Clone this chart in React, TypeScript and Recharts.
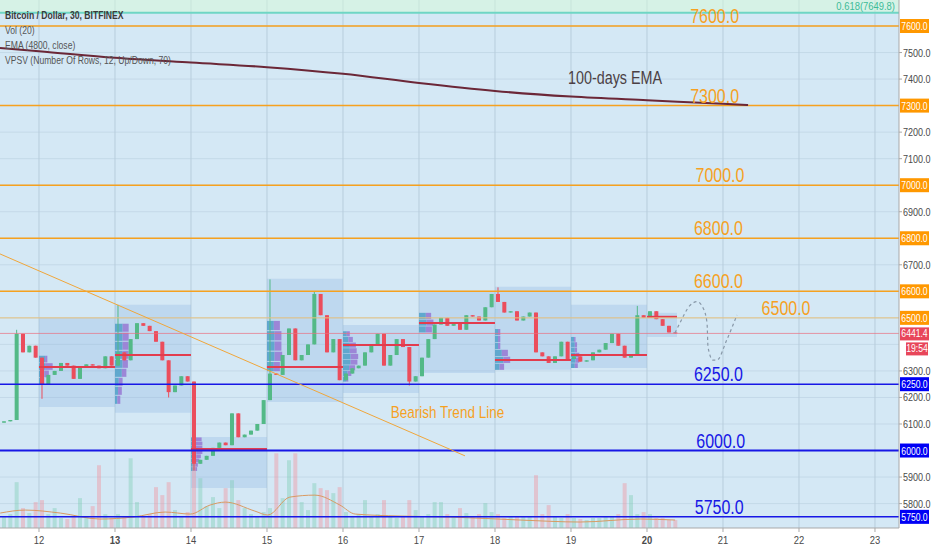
import {
  Bar,
  CartesianGrid,
  Cell,
  ComposedChart,
  Line,
  ReferenceArea,
  ReferenceDot,
  ReferenceLine,
  XAxis,
  YAxis,
} from "recharts";

const W = 932;
const H = 550;
const FONT = "'Liberation Sans', Arial, sans-serif";
const X_DOMAIN: [number, number] = [11.487, 23.316];
const Y_DOMAIN: [number, number] = [5708, 7698];

const UP = "#53b987";
const DOWN = "#eb4d5c";
const ORANGE = "#f6a11f";
const BLUE = "#1717e6";

// x axis days and y axis labels
const DAY_TICKS = [12, 13, 14, 15, 16, 17, 18, 19, 20, 21, 22, 23];
const BOLD_DAYS = [13, 20];
const PRICE_TICKS = [5800, 5900, 6100, 6200, 6300, 6700, 6900, 7100, 7200, 7400, 7500];
const PRICE_GRID = [
  5800, 5900, 6000, 6100, 6200, 6300, 6400, 6500, 6600, 6700, 6800, 6900, 7000, 7100, 7200,
  7300, 7400, 7500, 7600,
];

// 2h closes, one list per day (the 11th starts at noon)
const FIRST_OPEN = 6105;
const closes11 = [6110, 6115, 6440, 6370, 6395, 6350];
const closes12 = [6250, 6285, 6300, 6330, 6320, 6270, 6318, 6325, 6320, 6310, 6355, 6320];
const closes13 = [6370, 6340, 6420, 6480, 6470, 6450, 6410, 6340, 6220, 6245, 6280, 6260];
const closes14 = [5950, 5965, 5980, 6010, 6030, 6020, 6140, 6050, 6060, 6075, 6100, 6190];
const closes15 = [6290, 6285, 6360, 6460, 6340, 6360, 6400, 6590, 6510, 6370, 6420, 6265];
const closes16 = [6290, 6310, 6320, 6370, 6395, 6440, 6320, 6360, 6420, 6390, 6260, 6280];
const closes17 = [6350, 6420, 6475, 6500, 6470, 6480, 6455, 6510, 6505, 6490, 6540, 6590];
const closes18 = [6560, 6520, 6525, 6490, 6505, 6520, 6370, 6355, 6330, 6355, 6410, 6345];
const closes19 = [6355, 6335, 6340, 6370, 6380, 6405, 6440, 6395, 6350, 6360, 6510, 6500];
const closes20 = [6525, 6495, 6470, 6445, 6441.4];

const vol11 = [120, 140, 460, 200, 150, 260];
const vol12 = [280, 140, 200, 100, 90, 120, 300, 110, 220, 630, 140, 100];
const vol13 = [140, 120, 700, 260, 120, 140, 410, 330, 460, 180, 120, 160];
const vol14 = [780, 500, 220, 310, 200, 400, 480, 280, 200, 140, 120, 160];
const vol15 = [200, 750, 300, 680, 750, 260, 180, 450, 400, 380, 350, 410];
const vol16 = [160, 120, 140, 280, 120, 140, 280, 120, 100, 120, 280, 180];
const vol17 = [120, 140, 260, 260, 140, 120, 200, 150, 120, 140, 250, 160];
const vol18 = [140, 100, 120, 120, 120, 120, 530, 140, 230, 120, 100, 140];
const vol19 = [100, 90, 80, 100, 100, 120, 120, 140, 450, 330, 140, 160];
const vol20 = [140, 100, 100, 80, 80];

// Vol (20) average line
const volMaT = [11.49, 11.82, 12.28, 12.8, 13.24, 13.66, 13.99, 14.25, 14.45, 14.84, 15.01, 15.3, 15.63, 15.96, 16.16, 16.75, 17.41, 18.33, 19.12, 19.91, 20.37];
const volMaV = [150, 180, 150, 90, 110, 160, 140, 230, 260, 170, 130, 310, 330, 230, 140, 120, 110, 80, 60, 90, 80];
const volMaData = volMaT.map((t, i) => ({ t, ma: volMaV[i] }));

// day start, candle index, low, high (0 = body only)
const wickExtremes: [number, number, number, number][] = [
  [11.5, 2, 0, 6455],
  [12, 0, 6195, 0],
  [13, 0, 0, 6549],
  [13, 8, 6200, 0],
  [14, 0, 5925, 0],
  [15, 0, 0, 6645],
  [15, 7, 0, 6600],
  [16, 10, 6245, 0],
  [18, 0, 0, 6615],
  [19, 10, 0, 6545],
];

const dayLists: [number, number[], number[]][] = [
  [11.5, closes11, vol11],
  [12, closes12, vol12],
  [13, closes13, vol13],
  [14, closes14, vol14],
  [15, closes15, vol15],
  [16, closes16, vol16],
  [17, closes17, vol17],
  [18, closes18, vol18],
  [19, closes19, vol19],
  [20, closes20, vol20],
];

type Candle = { t: number; open: number; close: number; lo: number; hi: number; vol: number };
const STEP = 1 / 12;
const candles: Candle[] = [];
let prevClose = FIRST_OPEN;
for (const [start, list, vols] of dayLists) {
  list.forEach((close, i) => {
    const open = prevClose;
    const w = wickExtremes.find((e) => e[0] === start && e[1] === i);
    const lo = Math.min(open, close, w && w[2] ? w[2] : Infinity);
    const hi = Math.max(open, close, w && w[3] ? w[3] : -Infinity);
    candles.push({ t: start + (i + 0.5) * STEP, open, close, lo, hi, vol: vols[i] });
    prevClose = close;
  });
}

// EMA(4800) on the 30 min chart ~ 100 days
const emaT = [11.487, 12, 13, 14, 15, 16, 17, 18, 19, 20, 21, 21.33];
const emaV = [7517, 7505, 7480, 7462, 7445, 7420, 7385, 7355, 7334, 7320, 7307, 7302];
const emaData = emaT.map((t, i) => ({ t, ema: emaV[i] }));

// hand drawn projection
const projT = [20.368, 20.434, 20.56, 20.658, 20.737, 20.79, 20.803, 20.868, 20.92, 21.05, 21.184];
const projV = [6443, 6481, 6545, 6561, 6538, 6481, 6390, 6341, 6341, 6417, 6511];
const projData = projT.map((t, i) => ({ t, p: projV[i] }));

// VPSV session profiles, 12 rows bottom to top, widths in % of a day
const profileDay = [12, 13, 14, 15, 16, 17, 18, 19, 20];
const profileEnd = [13, 14, 15, 16, 17, 18, 19, 20, 20.395];
const profileLow = [6164, 6142, 5859, 6183, 6217, 6292, 6304, 6311, 6428];
const profileHigh = [6500, 6549, 6051, 6647, 6473, 6598, 6617, 6549, 6519];
const profilePoc = [6315, 6360, 6006, 6315, 6398, 6481, 6341, 6360, 6504];
const profileUp = [
  [0, 0, 0, 4, 7, 8, 8, 0, 0, 0, 0, 0],
  [0, 3, 4, 5, 9, 10, 10, 10, 10, 10, 0, 0],
  [0, 0, 0, 0, 5, 5, 6, 7, 7, 6, 5, 5],
  [0, 0, 0, 9, 10, 10, 10, 9, 0, 0, 0, 0],
  [0, 0, 4, 6, 8, 10, 10, 9, 9, 7, 5, 0],
  [0, 0, 0, 0, 0, 0, 9, 10, 9, 0, 0, 0],
  [6, 11, 9, 4, 4, 4, 0, 0, 0, 0, 0, 0],
  [5, 6, 6, 5, 5, 4, 0, 0, 0, 0, 0, 0],
  [0, 0, 0, 0, 0, 0, 0, 0, 0, 0, 0, 0],
];
const profileDown = [
  [0, 0, 0, 3, 6, 10, 3, 0, 0, 0, 0, 0],
  [0, 4, 5, 5, 6, 7, 8, 8, 8, 8, 0, 0],
  [0, 0, 0, 0, 3, 4, 5, 6, 8, 9, 10, 9],
  [0, 0, 0, 8, 10, 9, 9, 8, 0, 0, 0, 0],
  [0, 0, 3, 5, 8, 9, 10, 9, 8, 6, 4, 0],
  [0, 0, 0, 0, 0, 0, 8, 9, 7, 0, 0, 0],
  [6, 9, 8, 3, 3, 3, 0, 0, 0, 0, 0, 0],
  [4, 5, 5, 3, 3, 2, 0, 0, 0, 0, 0, 0],
  [0, 0, 0, 0, 0, 0, 0, 0, 0, 0, 0, 0],
];

const orangeLevels = [7600, 7300, 7000, 6800, 6600, 6500];
const blueLevels = [6250, 6000, 5750];
const FIB_LEVEL = 7649.8;
const LAST_PRICE = 6441.4;
const COUNTDOWN = "19:54";

// Liberation Sans squeezed to the narrow face TradingView uses
function NText(props: any) {
  const { x, y, size, fill, anchor = "start", weight = 400, children } = props;
  return (
    <text
      transform={`translate(${x} ${y}) scale(0.82 1)`}
      fontSize={size}
      fill={fill}
      textAnchor={anchor}
      fontWeight={weight}
      fontFamily={FONT}
    >
      {children}
    </text>
  );
}

function CandleShape(props: any) {
  const { x, width, payload } = props;
  let { y, height } = props;
  if (height < 0) {
    y += height;
    height = -height;
  }
  const { open, close, lo, hi } = payload as Candle;
  const color = close >= open ? UP : DOWN;
  const k = hi > lo ? height / (hi - lo) : 0;
  const top = y + (hi - Math.max(open, close)) * k;
  const bot = y + (hi - Math.min(open, close)) * k;
  const cx = x + width / 2;
  return (
    <g>
      <line x1={cx} x2={cx} y1={y} y2={y + height} stroke={color} strokeWidth={1} />
      <rect x={x} y={top} width={width} height={Math.max(1, bot - top)} fill={color} />
    </g>
  );
}

const axisTag = (text: string, bg: string) => (p: any) => {
  const vb = p.viewBox;
  const x = vb.x + vb.width + 1;
  return (
    <g>
      <rect x={x} y={vb.y - 7} width={29} height={14} fill={bg} />
      <NText x={x + 14.5} y={vb.y + 4} size={10.5} fill="#fff" anchor="middle">
        {text}
      </NText>
    </g>
  );
};

const lastTag = (p: any) => {
  const vb = p.viewBox;
  const x = vb.x + vb.width + 1;
  return (
    <g>
      <rect x={x} y={vb.y - 6} width={29} height={13} fill="#e8465a" />
      <NText x={x + 14.5} y={vb.y + 4} size={10.5} fill="#fff" anchor="middle">
        {LAST_PRICE.toFixed(1)}
      </NText>
      <rect x={x + 6} y={vb.y + 9} width={22} height={13} fill="#e8465a" />
      <NText x={x + 17} y={vb.y + 19} size={10.5} fill="#fff" anchor="middle">
        {COUNTDOWN}
      </NText>
    </g>
  );
};

const fibTag = (p: any) => {
  const vb = p.viewBox;
  return (
    <NText x={vb.x + vb.width - 4} y={vb.y - 3} size={11.5} fill="#3dbb98" anchor="end">
      {`0.618(${FIB_LEVEL.toFixed(1)})`}
    </NText>
  );
};

const bigText = (value: string, fill: string, size = 19.5, offset = 3) => (p: any) => {
  const vb = p.viewBox;
  return (
    <NText x={vb.x + vb.width / 2} y={vb.y + vb.height / 2 - offset} size={size} fill={fill} anchor="middle">
      {value}
    </NText>
  );
};

function DayTick(props: any) {
  const v = props.payload.value;
  return (
    <NText x={props.x} y={props.y + 10} size={11.5} fill="#4a4a4a" anchor="middle" weight={BOLD_DAYS.includes(v) ? 700 : 400}>
      {v}
    </NText>
  );
}

function PriceTick(props: any) {
  return (
    <NText x={props.x} y={props.y + 4} size={11} fill="#4a4a4a">
      {props.payload.value.toFixed(1)}
    </NText>
  );
}

export default function App() {
  return (
    <div style={{ position: "absolute", left: 0, top: 0, width: W, height: H, background: "#fff" }}>
      <ComposedChart width={W} height={H} data={candles} margin={{ top: 0, right: 0, bottom: 0, left: 0 }}>
        <CartesianGrid fill="#d4e8f5" stroke="#c4d9e8" vertical={false} horizontalValues={PRICE_GRID} />
        <CartesianGrid stroke="#b8cddc" horizontal={false} verticalValues={DAY_TICKS} />
        <XAxis
          type="number"
          dataKey="t"
          domain={X_DOMAIN}
          allowDataOverflow
          ticks={DAY_TICKS}
          height={22}
          tickSize={4}
          tick={<DayTick />}
          axisLine={{ stroke: "#a9a9a9" }}
          tickLine={{ stroke: "#a9a9a9" }}
        />
        <XAxis xAxisId="v" type="number" dataKey="t" domain={X_DOMAIN} allowDataOverflow hide />
        <XAxis xAxisId="ln" type="number" dataKey="t" domain={X_DOMAIN} allowDataOverflow hide />
        <YAxis
          orientation="right"
          type="number"
          domain={Y_DOMAIN}
          allowDataOverflow
          ticks={PRICE_TICKS}
          width={33}
          tickSize={3}
          tickMargin={1}
          tick={<PriceTick />}
          axisLine={{ stroke: "#a9a9a9" }}
          tickLine={{ stroke: "#a9a9a9" }}
        />
        <YAxis yAxisId="vol" domain={[0, 5300]} hide />

        <ReferenceArea y1={FIB_LEVEL} y2={Y_DOMAIN[1]} fill="#d8fcd7" fillOpacity={0.5} stroke="none" />

        {profileDay.map((d, i) => (
          <ReferenceArea
            key={`box${d}`}
            x1={d}
            x2={profileEnd[i]}
            y1={profileLow[i]}
            y2={profileHigh[i]}
            fill="#8cb4e1"
            fillOpacity={0.3}
            stroke="none"
          />
        ))}
        {profileDay.flatMap((d, i) => {
          const step = (profileHigh[i] - profileLow[i]) / 12;
          return profileUp[i].flatMap((u, r) => {
            const dn = profileDown[i][r];
            if (u + dn === 0) return [];
            const y1 = profileLow[i] + r * step;
            const y2 = y1 + step * 0.9;
            return [
              <ReferenceArea
                key={`u${d}-${r}`}
                x1={d}
                x2={d + u / 100}
                y1={y1}
                y2={y2}
                fill="#50a0c8"
                fillOpacity={0.85}
                stroke="none"
              />,
              <ReferenceArea
                key={`d${d}-${r}`}
                x1={d + u / 100}
                x2={d + (u + dn) / 100}
                y1={y1}
                y2={y2}
                fill="#9678d2"
                fillOpacity={0.85}
                stroke="none"
              />,
            ];
          });
        })}

        <Bar dataKey="vol" xAxisId="v" yAxisId="vol" barSize={4} isAnimationActive={false}>
          {candles.map((c, i) => (
            <Cell key={i} fill={c.close >= c.open ? "#7fcdb4" : "#f0929e"} fillOpacity={0.42} />
          ))}
        </Bar>
        <Line
          data={volMaData}
          xAxisId="ln"
          yAxisId="vol"
          dataKey="ma"
          type="monotone"
          stroke="#d99a62"
          strokeWidth={1}
          dot={false}
          activeDot={false}
          isAnimationActive={false}
        />

        {profileDay.map((d, i) => (
          <ReferenceLine
            key={`poc${d}`}
            segment={[
              { x: d, y: profilePoc[i] },
              { x: profileEnd[i], y: profilePoc[i] },
            ]}
            stroke="#e23c4e"
            strokeWidth={2}
          />
        ))}

        <ReferenceLine y={FIB_LEVEL} stroke="#6fd6c4" strokeWidth={2} label={fibTag} />
        {orangeLevels.map((v) => (
          <ReferenceLine
            key={`o${v}`}
            y={v}
            stroke={v === 6500 ? "#e8c27e" : ORANGE}
            strokeWidth={v === 6500 ? 1 : 1.5}
            label={axisTag(v.toFixed(1), "#ff9800")}
          />
        ))}
        {blueLevels.map((v) => (
          <ReferenceLine
            key={`b${v}`}
            y={v}
            stroke={BLUE}
            strokeWidth={v === 6000 ? 2 : 1.5}
            label={axisTag(v.toFixed(1), "#0000f5")}
          />
        ))}
        <ReferenceLine y={LAST_PRICE} stroke="#ea6f7f" strokeOpacity={0.7} strokeWidth={1} label={lastTag} />

        <ReferenceLine
          segment={[
            { x: 11.487, y: 6741 },
            { x: 17.605, y: 5980 },
          ]}
          stroke="#f0a63a"
          strokeWidth={1}
        />

        <Bar
          dataKey={(c: Candle) => [c.lo, c.hi]}
          barSize={4}
          shape={CandleShape}
          isAnimationActive={false}
        />

        <Line
          data={emaData}
          xAxisId="ln"
          dataKey="ema"
          type="monotone"
          stroke="#6b2737"
          strokeWidth={2}
          dot={false}
          activeDot={false}
          isAnimationActive={false}
        />
        <Line
          data={projData}
          xAxisId="ln"
          dataKey="p"
          type="monotone"
          stroke="#8898a8"
          strokeWidth={1.2}
          strokeDasharray="3 3"
          dot={false}
          activeDot={false}
          isAnimationActive={false}
        />

        <ReferenceDot x={20.89} y={7600} r={1} fill="none" stroke="none" label={bigText("7600.0", ORANGE)} />
        <ReferenceDot x={20.89} y={7300} r={1} fill="none" stroke="none" label={bigText("7300.0", ORANGE)} />
        <ReferenceDot x={20.96} y={7000} r={1} fill="none" stroke="none" label={bigText("7000.0", ORANGE)} />
        <ReferenceDot x={20.94} y={6800} r={1} fill="none" stroke="none" label={bigText("6800.0", ORANGE)} />
        <ReferenceDot x={20.94} y={6600} r={1} fill="none" stroke="none" label={bigText("6600.0", ORANGE)} />
        <ReferenceDot x={21.83} y={6500} r={1} fill="none" stroke="none" label={bigText("6500.0", ORANGE)} />
        <ReferenceDot x={20.94} y={6250} r={1} fill="none" stroke="none" label={bigText("6250.0", BLUE)} />
        <ReferenceDot x={20.97} y={6000} r={1} fill="none" stroke="none" label={bigText("6000.0", BLUE)} />
        <ReferenceDot x={20.95} y={5750} r={1} fill="none" stroke="none" label={bigText("5750.0", BLUE)} />
        <ReferenceDot x={19.58} y={7381} r={1} fill="none" stroke="none" label={bigText("100-days EMA", "#4b3f44", 17.5, 0)} />
        <ReferenceDot x={17.375} y={6123} r={1} fill="none" stroke="none" label={bigText("Bearish Trend Line", ORANGE, 16.5, 0)} />
      </ComposedChart>
      <svg width={W} height={H} style={{ position: "absolute", left: 0, top: 0, pointerEvents: "none" }}>
        <NText x={5} y={19} size={10.5} weight={700} fill="#3a3a3a">
          Bitcoin / Dollar, 30, BITFINEX
        </NText>
        <NText x={5} y={34} size={10.5} fill="#555">
          Vol (20)
        </NText>
        <NText x={5} y={49} size={10.5} fill="#555">
          EMA (4800, close)
        </NText>
        <NText x={5} y={64} size={10.5} fill="#555">
          VPSV (Number Of Rows, 12, Up/Down, 70)
        </NText>
      </svg>
    </div>
  );
}
